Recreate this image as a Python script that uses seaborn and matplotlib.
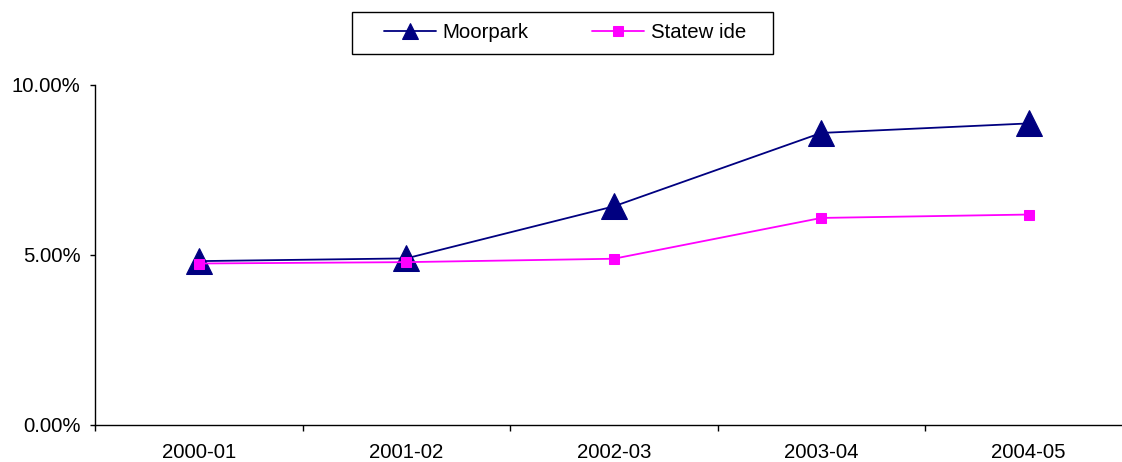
import matplotlib
matplotlib.use("Agg")
import matplotlib.pyplot as plt
from matplotlib.patches import Rectangle
from matplotlib.ticker import FixedLocator, FuncFormatter, NullFormatter
import seaborn as sns
import pandas as pd

# Share of students (%) by school year
years = ["2000-01", "2001-02", "2002-03", "2003-04", "2004-05"]
moorpark = [4.82, 4.90, 6.43, 8.59, 8.87]
statewide = [4.75, 4.79, 4.89, 6.09, 6.19]

sns.set_theme(style="white")
plt.rcParams["font.family"] = ["Liberation Sans", "DejaVu Sans"]
plt.rcParams["text.color"] = "black"
plt.rcParams["xtick.color"] = "black"
plt.rcParams["ytick.color"] = "black"

df_m = pd.DataFrame({"year": years, "value": moorpark})
df_s = pd.DataFrame({"year": years, "value": statewide})

W, H = 1122, 462
fig = plt.figure(figsize=(W / 100, H / 100), dpi=100)
ax = fig.add_axes([95 / W, 37 / H, 1037.5 / W, 340 / H])

navy = "#000080"
magenta = "#FF00FF"
fs = 14.7

sns.lineplot(data=df_m, x="year", y="value", ax=ax, color=navy, marker="^",
             markersize=19, markeredgecolor=navy, linewidth=1.3,
             label="Moorpark", sort=False)
sns.lineplot(data=df_s, x="year", y="value", ax=ax, color=magenta, marker="s",
             markersize=7.5, markeredgecolor=magenta, linewidth=1.3,
             label="Statew ide", sort=False)

ax.set_xlim(-0.5, len(years) - 0.5)
ax.set_ylim(0, 10)
ax.set_xlabel("")
ax.set_ylabel("")

for side in ("top", "right"):
    ax.spines[side].set_visible(False)
for side in ("left", "bottom"):
    ax.spines[side].set_color("black")
    ax.spines[side].set_linewidth(1.0)

ax.yaxis.set_major_locator(FixedLocator([0, 5, 10]))
ax.yaxis.set_major_formatter(FuncFormatter(lambda v, p: f"{v:.2f}%"))
ax.tick_params(axis="y", which="major", direction="out", length=3.6, width=1,
               color="black", labelcolor="black", labelsize=fs, pad=7, left=True)

ax.set_xticks(range(len(years)))
ax.set_xticklabels(years)
ax.tick_params(axis="x", which="major", length=0, labelsize=fs,
               labelcolor="black", pad=13)
ax.xaxis.set_minor_locator(FixedLocator([i - 0.5 for i in range(len(years) + 1)]))
ax.xaxis.set_minor_formatter(NullFormatter())
ax.tick_params(axis="x", which="minor", direction="out", length=4, width=1,
               color="black", bottom=True)

ax.get_legend().remove()
handles, labels = ax.get_legend_handles_labels()
leg = fig.legend(handles, labels, loc="center", bbox_to_anchor=(565 / W, 429 / H),
                 ncol=2, fontsize=fs, frameon=False,
                 handlelength=2.55, handletextpad=0.34,
                 columnspacing=3.1, borderpad=0.55, borderaxespad=0)
for t in leg.get_texts():
    t.set_color("black")
for h, ms in zip(leg.legend_handles, [12, 7.5]):
    h.set_markersize(ms)

# Legend frame with wider side margins
fig.add_artist(Rectangle((352 / W, (H - 54) / H), 421 / W, 42 / H,
                         transform=fig.transFigure, fill=False,
                         edgecolor="black", linewidth=1.0))

fig.savefig("out.png", dpi=100)
